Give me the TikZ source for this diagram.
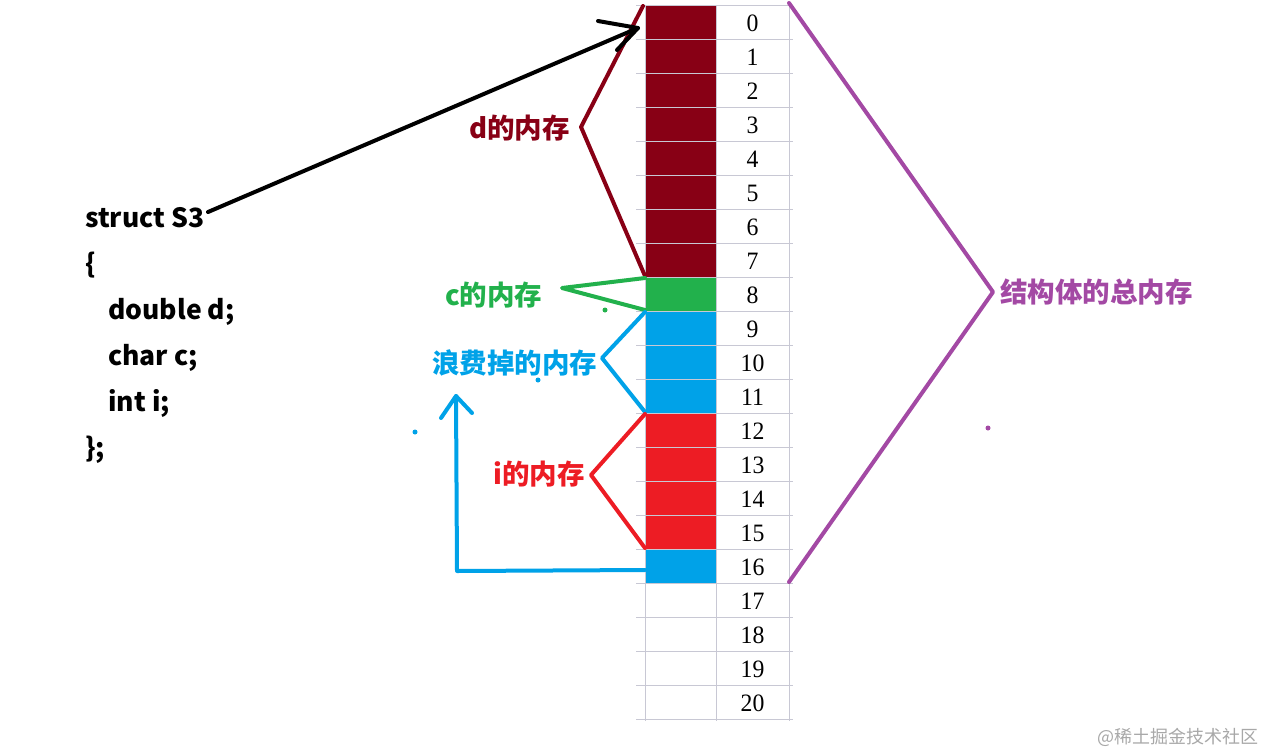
\documentclass[tikz,border=0pt]{standalone}
\usepackage{fontspec}
\setmainfont{Noto Sans CJK SC}
\newfontfamily\numfont{Liberation Serif}
\definecolor{cdred}{HTML}{880015}
\definecolor{cgreen}{HTML}{22B14C}
\definecolor{cblue}{HTML}{00A2E8}
\definecolor{cred}{HTML}{ED1C24}
\definecolor{cpurple}{HTML}{A349A4}
\definecolor{cgrid}{HTML}{C8C8D4}
\definecolor{cmark}{HTML}{A8A8A8}
\tikzset{
  pen/.style={line width=4pt, line cap=round, line join=round},
  codetext/.style={font=\bfseries\fontsize{26.5}{30}\selectfont, anchor=base west, inner sep=0pt},
  lbl/.style={font=\bfseries\fontsize{27.5}{31}\selectfont, anchor=west, inner sep=0pt},
  numtext/.style={font=\numfont\fontsize{25}{28}\selectfont, inner sep=0pt},
  gridline/.style={cgrid, line width=1pt},
  dot/.style={circle, fill, inner sep=0pt, minimum size=5pt}
}
\begin{document}
\begin{tikzpicture}[x=1pt,y=-1pt]
\useasboundingbox (0,0) rectangle (1266,753);
% cell fills
\fill[cdred] (645,5) rectangle (716,277);
\fill[cgreen] (645,277) rectangle (716,311);
\fill[cblue] (645,311) rectangle (716,413);
\fill[cred] (645,413) rectangle (716,549);
\fill[cblue] (645,549) rectangle (716,583);
% grid
\foreach \k in {0,...,21} {
  \draw[gridline] (636,5+34*\k) -- (793,5+34*\k);
}
\foreach \xx in {645,716,789} {
  \draw[gridline] (\xx,5) -- (\xx,721);
}
% numbers
\foreach \k in {0,...,20} {
  \node[numtext, xscale=0.95] (n\k) at (752.5,23+34*\k) {\k};
}
% cell anchors
\coordinate (c0top) at (643,6);
\coordinate (c7bot) at (645,276);
\coordinate (c8top) at (645,278);
\coordinate (c8bot) at (645,310);
\coordinate (c9top) at (645,312);
\coordinate (c11bot) at (645,412);
\coordinate (c12top) at (645,414);
\coordinate (c15bot) at (645,548);
\coordinate (c16) at (645,570);
\coordinate (ttop) at (789,3);
\coordinate (tbot) at (789,582);
% code
\node[codetext] (l1) at (85,227) {struct S3};
\node[codetext] (l2) at (85,273) {\{};
\node[codetext] (l3) at (108,319) {double d;};
\node[codetext] (l4) at (108,365) {char c;};
\node[codetext] (l5) at (108,411) {int i;};
\node[codetext] (l6) at (85,457) {\};};
% labels
\node[lbl, text=cdred] (ld) at (469,128) {d的内存};
\node[lbl, text=cgreen] (lc) at (445,295) {c的内存};
\node[lbl, text=cblue] (lw) at (432,363) {浪费掉的内存};
\node[lbl, text=cred] (li) at (493,474) {i的内存};
\node[lbl, text=cpurple] (lt) at (1000,292) {结构体的总内存};
% brackets
\coordinate (ad) at (581,127);
\coordinate (ac) at (562,288);
\coordinate (aw) at (602,358);
\coordinate (ai) at (591,475);
\coordinate (at) at (993,292);
\draw[pen, cdred] (c0top) -- (ad) -- (c7bot);
\draw[pen, cgreen] (c8top) -- (ac) -- (c8bot);
\draw[pen, cblue] (c9top) -- (aw) -- (c11bot);
\draw[pen, cred] (c12top) -- (ai) -- (c15bot);
\draw[pen, cpurple] (ttop) -- (at) -- (tbot);
% black arrow
\coordinate (bs) at (208,212);
\coordinate (bt) at (638,28);
\coordinate (bh1) at (598,21);
\coordinate (bh2) at (617,50);
\draw[pen, black] (bs) -- (bt);
\draw[pen, black] (bh1) -- (bt) -- (bh2);
% blue arrow
\coordinate (bc) at (457,571);
\coordinate (btip) at (456,396);
\coordinate (bw1) at (441,418);
\coordinate (bw2) at (472,413);
\draw[pen, cblue] (c16) -- (bc) -- (btip);
\draw[pen, cblue] (bw1) -- (btip) -- (bw2);
% stray dots
\node[dot, cgreen] (d1) at (605,310) {};
\node[dot, cblue] (d2) at (538,380) {};
\node[dot, cblue] (d3) at (415,432) {};
\node[dot, cpurple] (d4) at (988,428) {};
% watermark
\node[anchor=east, inner sep=0pt, text=cmark, font=\fontsize{18}{20}\selectfont] (wm) at (1259,737) {@稀土掘金技术社区};
\end{tikzpicture}
\end{document}
